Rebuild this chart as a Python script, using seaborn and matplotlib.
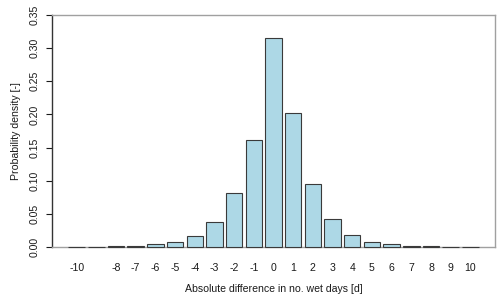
import numpy as np
import pandas as pd
import seaborn as sns
import matplotlib
matplotlib.use("Agg")
import matplotlib.pyplot as plt

# difference in number of wet days and its probability density
diff_days = list(range(-10, 11))
density = [0.0003, 0.0005, 0.001, 0.002, 0.004, 0.008, 0.017, 0.037, 0.081, 0.161,
           0.315, 0.202, 0.095, 0.042, 0.018, 0.008, 0.004, 0.0015, 0.001, 0.0005, 0.0003]
# R dropped the -9 label because it overlapped
tick_labels = [str(d) if d != -9 else "" for d in diff_days]

df = pd.DataFrame({"diff": diff_days, "density": density})

sns.set_style("white")
plt.rcParams["font.family"] = ["Liberation Sans", "DejaVu Sans"]
plt.rcParams["font.size"] = 7.6

fig = plt.figure(figsize=(5.0, 3.01), dpi=100)
ax = fig.add_axes([0.104, 0.1794, 0.886, 0.7708])

sns.barplot(data=df, x="diff", y="density", order=diff_days, color="#ADD8E6",
            saturation=1, width=1 / 1.2, edgecolor="#3a3a3a", linewidth=0.8, ax=ax)
for p in ax.patches:
    p.set_zorder(3)
    p.set_clip_on(False)

ax.set_xlim(-1.25, 21.25)
ax.set_ylim(0, 0.35)
ax.set_yticks(np.arange(0, 0.351, 0.05))
ax.set_yticklabels([f"{v:.2f}" for v in np.arange(0, 0.351, 0.05)],
                   rotation=90, va="center")
ax.set_xticks(range(len(diff_days)))
ax.set_xticklabels(tick_labels)
ax.tick_params(axis="x", length=0, pad=11.5, labelsize=7.6, colors="#1a1a1a")
ax.tick_params(axis="y", length=4, width=0.8, pad=5, labelsize=7.6,
               colors="#1a1a1a", left=True, direction="out")

for side in ["top", "right", "bottom"]:
    ax.spines[side].set_color("#a0a0a0")
    ax.spines[side].set_linewidth(1.0)
ax.spines["left"].set_color("#333333")
ax.spines["left"].set_linewidth(1.0)

ax.set_xlabel("Absolute difference in no. wet days [d]", fontsize=7.6, labelpad=8,
              color="#1a1a1a")
ax.set_ylabel("Probability density [-]", fontsize=7.6, labelpad=6, color="#1a1a1a")

fig.savefig("out.png", dpi=100)
